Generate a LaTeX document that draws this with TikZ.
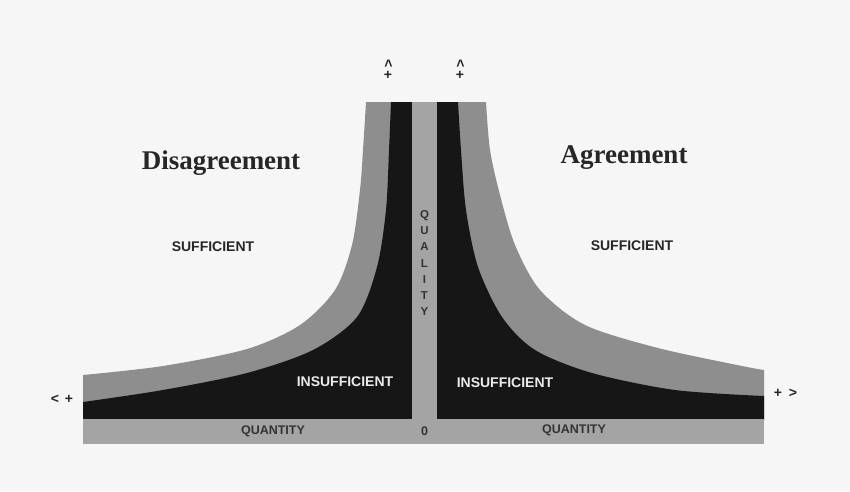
\documentclass[tikz,border=0pt]{standalone}
\usepackage{fontspec}
\setmainfont{Liberation Serif}
\setsansfont{Liberation Sans}
\definecolor{bandgray}{HTML}{8E8E8E}
\definecolor{stripgray}{HTML}{A4A4A4}
\definecolor{bandblack}{HTML}{161616}
\definecolor{paper}{HTML}{F6F6F6}
\begin{document}
\begin{tikzpicture}[x=1pt,y=-1pt,
  heading/.style={font=\fontsize{27}{30}\selectfont\bfseries\rmfamily, text=black!85, inner sep=0pt},
  zonelabel/.style={font=\fontsize{14}{15}\selectfont\bfseries\sffamily, inner sep=0pt},
  axislabel/.style={font=\fontsize{12.5}{13}\selectfont\bfseries\sffamily, text=black!80, inner sep=0pt},
  signlabel/.style={font=\fontsize{14}{15}\selectfont\bfseries\sffamily, text=black!85, inner sep=0pt}]
\useasboundingbox (0,0) rectangle (850,491);
\fill[paper] (0,0) rectangle (850,491);
% left side
\fill[bandgray] plot[smooth] coordinates {(83,375) (163,366) (247,349) (300,325) (335,290) (352,245) (360,190) (363,150) (366,102)}
  -- (412,102) -- (412,420) -- (83,420) -- cycle;
\fill[bandblack] plot[smooth] coordinates {(83,402) (163,390) (247,373) (313,350) (357,317) (377,267) (386,210) (389,150) (391,102)}
  -- (412,102) -- (412,420) -- (83,420) -- cycle;
% right side
\fill[bandgray] plot[smooth] coordinates {(764,370) (742,366) (658,348) (585,325) (540,290) (515,245) (500,195) (490,150) (486,102)}
  -- (437,102) -- (437,420) -- (764,420) -- cycle;
\fill[bandblack] plot[smooth] coordinates {(764,396) (675,390) (592,373) (535,350) (502,317) (478,267) (466,210) (461,150) (458,102)}
  -- (437,102) -- (437,420) -- (764,420) -- cycle;
% axes strips
\fill[stripgray] (412,102) rectangle (437,420);
\fill[stripgray] (83,419) rectangle (764,444);
% headings
\node[heading] (dis) at (221,163) {Disagreement};
\node[heading] (agr) at (624,158) {Agreement};
% zone labels
\node[zonelabel, text=black!85] (sufl) at (213,247) {SUFFICIENT};
\node[zonelabel, text=black!85] (sufr) at (632,246) {SUFFICIENT};
\node[zonelabel, text=white!92!black] (insl) at (345,382) {INSUFFICIENT};
\node[zonelabel, text=white!92!black] (insr) at (505,383) {INSUFFICIENT};
% axis labels
\node[axislabel] (qnl) at (273,431) {QUANTITY};
\node[axislabel] (qnr) at (574,430) {QUANTITY};
\node[axislabel] (zero) at (424.5,431) {0};
\node[axislabel, align=center, font=\fontsize{11.5}{16.2}\selectfont\bfseries\sffamily] (qual) at (424.5,263) {Q\\U\\A\\L\\I\\T\\Y};
% direction signs
\node[signlabel, rotate=-90] (upl) at (388,64) {<};
\node[signlabel] (plt) at (388,75) {+};
\node[signlabel, rotate=-90] (upr) at (460,64) {<};
\node[signlabel] (prt) at (460,75) {+};
\node[signlabel] (ltl) at (55,399) {<};
\node[signlabel] (ltp) at (69,399) {+};
\node[signlabel] (rtp) at (778,393) {+};
\node[signlabel] (rtg) at (793,393) {>};
\end{tikzpicture}
\end{document}
